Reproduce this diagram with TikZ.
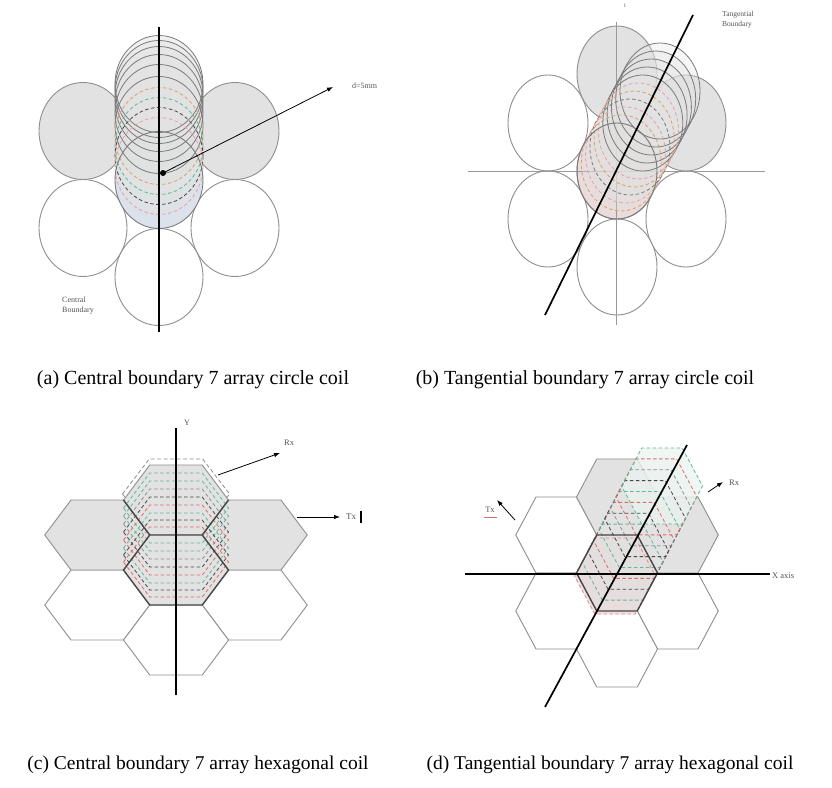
\documentclass[tikz,border=0pt]{standalone}
\usepackage{fontspec}
\setmainfont{Liberation Serif}
\usetikzlibrary{arrows.meta}
\definecolor{lgray}{HTML}{E2E2E2}
\definecolor{ogray}{HTML}{8E8E8E}
\definecolor{sgray}{HTML}{7A7A7A}
\definecolor{dgray}{HTML}{474747}
\definecolor{cgreen}{HTML}{5DB894}
\definecolor{cred}{HTML}{E06A6A}
\definecolor{corange}{HTML}{D9A06A}
\definecolor{cblue}{HTML}{7C95C8}
\definecolor{cpink}{HTML}{E3A0A8}
\definecolor{txtgray}{HTML}{555555}
\definecolor{lblue}{HTML}{DCE2EC}
\definecolor{lpink}{HTML}{EADCDC}
\newcommand{\hexpth}[4]{({#1-#3},{#2}) -- ({#1-#3/2},{#2-#4}) -- ({#1+#3/2},{#2-#4}) -- ({#1+#3},{#2}) -- ({#1+#3/2},{#2+#4}) -- ({#1-#3/2},{#2+#4}) -- cycle}
\begin{document}
\begin{tikzpicture}[x=1pt,y=-1pt,
  coilgray/.style={draw=ogray, line width=0.9pt, fill=lgray},
  coilwhite/.style={draw=ogray, line width=0.9pt, fill=white},
  coildark/.style={draw=dgray, line width=1.4pt},
  axisthick/.style={draw=black, line width=1.7pt},
  axisthin/.style={draw=gray!80, line width=0.8pt},
  stackline/.style={line width=0.8pt, dash pattern=on 3.5pt off 2.5pt},
  pointer/.style={draw=black, line width=0.8pt, -{Latex[length=6pt,width=4.5pt]}},
  smalltxt/.style={font=\fontsize{8}{9.5}\selectfont, text=txtgray, inner sep=0pt},
  captop/.style={font=\fontsize{20}{24}\selectfont, inner sep=0pt},
  capbot/.style={font=\fontsize{19.5}{24}\selectfont, inner sep=0pt}]
\useasboundingbox[fill=white] (0,0) rectangle (832,787);

% ---------------- (a) ----------------
\draw[coilgray] (83,131) ellipse [x radius=44, y radius=48.5];
\draw[coilgray] (235,131) ellipse [x radius=44, y radius=48.5];
\draw[coilwhite] (83,228) ellipse [x radius=44, y radius=48.5];
\draw[coilwhite] (235,228) ellipse [x radius=44, y radius=48.5];
\draw[coilwhite] (159,277) ellipse [x radius=44, y radius=48.5];
\fill[lblue] (159,180) ellipse [x radius=44, y radius=48.5];
\foreach \yy in {84,89,95,103,113,125,136,146,156,166}
  \fill[lgray, fill opacity=0.45] (159,\yy) ellipse [x radius=44, y radius=48.5];
\foreach \yy in {84,89,95,103,113,125}
  \draw[sgray, line width=0.8pt] (159,\yy) ellipse [x radius=44, y radius=48.5];
\foreach \yy/\col in {136/corange,146/cgreen,156/dgray,166/cpink}
  \draw[\col, stackline] (159,\yy) ellipse [x radius=44, y radius=48.5];
\draw[sgray, line width=0.9pt] (159,180) ellipse [x radius=44, y radius=48.5];
\coordinate (aT) at (159,27);
\coordinate (aB) at (159,332);
\draw[axisthick] (aT) -- (aB);
\coordinate (aD) at (163,173);
\coordinate (aE) at (333,87);
\draw[pointer] (aD) -- (aE);
\fill[black] (aD) circle [radius=3];
\node[smalltxt, anchor=west] (dlab) at (352,86) {d=5mm};
\node[smalltxt, anchor=north west, align=left] (cblab) at (62,297) {Central\\Boundary};

% ---------------- (b) ----------------
\coordinate (bVT) at (616,22);
\coordinate (bVB) at (616,325);
\coordinate (bHL) at (468,171);
\coordinate (bHR) at (765,171);
\draw[coilwhite] (548,123) ellipse [x radius=40, y radius=48];
\draw[coilwhite] (548,219) ellipse [x radius=40, y radius=48];
\draw[coilwhite] (686,219) ellipse [x radius=40, y radius=48];
\draw[coilwhite] (617,267) ellipse [x radius=40, y radius=48];
\draw[coilgray] (617,74) ellipse [x radius=40, y radius=48];
\draw[coilgray] (686,123) ellipse [x radius=40, y radius=48];
\draw[coilgray, fill=lpink] (617,171) ellipse [x radius=40, y radius=48];
\draw[axisthin] (bVT) -- (bVB);
\draw[axisthin] (bHL) -- (bHR);
\foreach \t in {0.1,0.2,0.3,0.4,0.5,0.6,0.7,0.8,0.9,1}
  \fill[lgray, fill opacity=0.3] ({617+43*\t},{171-80*\t}) ellipse [x radius=40, y radius=48];
\foreach \t in {0.6,0.7,0.8,0.9,1}
  \draw[sgray, line width=0.8pt] ({617+43*\t},{171-80*\t}) ellipse [x radius=40, y radius=48];
\foreach \t/\col in {0.1/corange,0.2/cpink,0.3/sgray,0.4/corange,0.5/cpink}
  \draw[\col, stackline] ({617+43*\t},{171-80*\t}) ellipse [x radius=40, y radius=48];
\draw[sgray, line width=0.9pt] (617,171) ellipse [x radius=40, y radius=48];
\coordinate (bTA) at (545,315);
\coordinate (bTB) at (693,15);
\draw[axisthick] (bTA) -- (bTB);
\node[smalltxt, anchor=north west, align=left, font=\fontsize{7.5}{10}\selectfont] (tblab) at (722,11) {Tangential\\Boundary};
\node[smalltxt, font=\fontsize{6}{7}\selectfont] (ilab) at (625,6) {i};

% ---------------- (c) ----------------
\draw[coilwhite] \hexpth{97.25}{605}{52.5}{35};
\draw[coilwhite] \hexpth{254.75}{605}{52.5}{35};
\draw[coilwhite] \hexpth{176}{640}{52.5}{35};
\draw[coilgray] \hexpth{97.25}{535}{52.5}{35};
\draw[coilgray] \hexpth{254.75}{535}{52.5}{35};
\draw[ogray, line width=0.8pt, dash pattern=on 4pt off 2.5pt] \hexpth{176}{494}{53.5}{35};
\draw[coilgray] \hexpth{176}{500}{52.5}{35};
\fill[lgray] \hexpth{176}{570}{52.5}{35};
\foreach \yy/\col in {508/cgreen,516/cgreen,524/ogray,532/dgray,540/cred,548/cgreen,555/dgray,562/cred}
  \draw[\col, stackline] \hexpth{176}{\yy}{52.5}{35};
\draw[coildark] \hexpth{176}{570}{52.5}{35};
\draw[coildark] (123.5,500) -- (149.75,535);
\draw[coildark] (228.5,500) -- (202.25,535);
\coordinate (cT) at (176,428);
\coordinate (cB) at (176,695);
\draw[axisthick] (cT) -- (cB);
\node[smalltxt] (ylab) at (187,423) {Y};
\coordinate (cR1) at (218,475);
\coordinate (cR2) at (280,453);
\draw[pointer] (cR1) -- (cR2);
\node[smalltxt, anchor=west, font=\fontsize{8.5}{10}\selectfont] (rxc) at (284,443) {Rx};
\coordinate (cX1) at (297,517);
\coordinate (cX2) at (340,517);
\draw[pointer] (cX1) -- (cX2);
\node[smalltxt, anchor=west, font=\fontsize{9}{10}\selectfont] (txc) at (346,517) {Tx};
\coordinate (cbar1) at (361,511);
\coordinate (cbar2) at (361,523);
\draw[black, line width=1.1pt] (cbar1) -- (cbar2);

% ---------------- (d) ----------------
\draw[coilwhite] \hexpth{556.25}{535}{40.5}{38};
\draw[coilwhite] \hexpth{556.25}{611}{40.5}{38};
\draw[coilwhite] \hexpth{677.75}{611}{40.5}{38};
\draw[coilwhite] \hexpth{617}{649}{40.5}{38};
\draw[coilgray] \hexpth{617}{497}{40.5}{38};
\draw[coilgray] \hexpth{677.75}{535}{40.5}{38};
\fill[lgray] \hexpth{617}{573}{40.5}{38};
\fill[lpink, fill opacity=0.8] \hexpth{615}{576}{40.5}{38};
\foreach \t in {0.125,0.25,0.375,0.5,0.625,0.75,0.875,1}
  \fill[lgray, fill opacity=0.28] \hexpth{617+45*\t}{573-87*\t}{40.5}{38};
\fill[cgreen!12, fill opacity=0.6] \hexpth{662}{486}{40.5}{38};
\draw[cred!80, stackline] \hexpth{615}{576}{40.5}{38};
\foreach \t/\col in {0.125/cgreen,0.25/dgray,0.375/cred,0.5/cgreen,0.625/dgray,0.75/ogray,0.875/cred,1/cgreen}
  \draw[\col, stackline] \hexpth{617+45*\t}{573-87*\t}{40.5}{38};
\draw[coildark] \hexpth{617}{573}{40.5}{38};
\coordinate (dXL) at (465,574);
\coordinate (dXR) at (770,574);
\draw[axisthick] (dXL) -- (dXR);
\node[smalltxt, anchor=west, font=\fontsize{8.5}{10}\selectfont] (xlab) at (772,576) {X axis};
\coordinate (dTA) at (545,707);
\coordinate (dTB) at (687,445);
\draw[axisthick] (dTA) -- (dTB);
\coordinate (dX1) at (515,520);
\coordinate (dX2) at (497,500);
\draw[pointer] (dX1) -- (dX2);
\node[smalltxt, font=\fontsize{8.5}{10}\selectfont] (txd) at (490,510) {Tx};
\coordinate (du1) at (484,517);
\coordinate (du2) at (497,517);
\draw[cred, line width=0.6pt] (du1) -- (du2);
\coordinate (dR1) at (708,492);
\coordinate (dR2) at (723,482);
\draw[pointer] (dR1) -- (dR2);
\node[smalltxt, anchor=west, font=\fontsize{8.5}{10}\selectfont] (rxd) at (729,483) {Rx};

% ---------------- captions ----------------
\node[captop] (capa) at (193,380) {(a) Central boundary 7 array circle coil};
\node[captop] (capb) at (585,380) {(b) Tangential boundary 7 array circle coil};
\node[capbot] (capc) at (198,765) {(c) Central boundary 7 array hexagonal coil};
\node[capbot] (capd) at (610,765) {(d) Tangential boundary 7 array hexagonal coil};
\end{tikzpicture}
\end{document}
